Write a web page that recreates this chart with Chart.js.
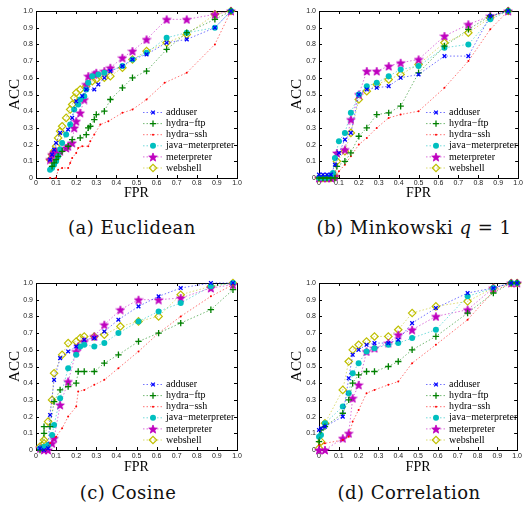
<!DOCTYPE html>
<html>
<head>
<meta charset="utf-8">
<script src="https://cdn.jsdelivr.net/npm/chart.js@4/dist/chart.umd.min.js"></script>
<style>
  body { margin: 0; background: #fff; width: 524px; height: 506px; position: relative; overflow: hidden; }
  canvas { position: absolute; }
  .cap { position: absolute; font-family: "DejaVu Serif", serif; font-size: 18px; line-height: 20px; color: #111;
         white-space: nowrap; transform: translateX(-50%); letter-spacing: 0.5px; }
</style>
</head>
<body>
<canvas id="a" width="262" height="205" style="left:0;top:0"></canvas>
<canvas id="b" width="262" height="205" style="left:262px;top:0"></canvas>
<canvas id="c" width="262" height="225" style="left:0;top:253px"></canvas>
<canvas id="d" width="262" height="225" style="left:262px;top:253px"></canvas>
<div class="cap" style="left:132px;top:218px">(a) Euclidean</div>
<div class="cap" style="left:414px;top:218px">(b) Minkowski <i>q</i> = 1</div>
<div class="cap" style="left:128px;top:483px">(c) Cosine</div>
<div class="cap" style="left:409px;top:483px">(d) Correlation</div>
<script>
// tick values, shared by both axes of every panel
const tickValues = [0, 0.1, 0.2, 0.3, 0.4, 0.5, 0.6, 0.7, 0.8, 0.9, 1];
const seriesNames = ["adduser", "hydra\u2212ftp", "hydra\u2212ssh", "java\u2212meterpreter", "meterpreter", "webshell"];

// (a) Euclidean  [FPR, ACC]
const eucAdduser = [[0.07,0.11],[0.08,0.14],[0.09,0.17],[0.1,0.21],[0.12,0.27],[0.16,0.29],[0.18,0.36],[0.2,0.46],[0.23,0.49],[0.25,0.53],[0.29,0.53],[0.31,0.56],[0.34,0.6],[0.37,0.64],[0.43,0.67],[0.48,0.71],[0.55,0.74],[0.65,0.81],[0.75,0.83],[0.89,0.9],[0.97,1]];
const eucFtp = [[0.08,0.07],[0.09,0.09],[0.1,0.11],[0.11,0.13],[0.13,0.16],[0.16,0.19],[0.18,0.23],[0.22,0.24],[0.25,0.26],[0.26,0.3],[0.27,0.31],[0.29,0.35],[0.3,0.38],[0.34,0.4],[0.37,0.47],[0.43,0.54],[0.48,0.6],[0.55,0.64],[0.65,0.77],[0.75,0.87],[0.89,0.95],[0.97,1]];
const eucSsh = [[0.07,0],[0.1,0],[0.11,0.05],[0.13,0.06],[0.16,0.06],[0.17,0.09],[0.18,0.12],[0.2,0.15],[0.21,0.18],[0.23,0.19],[0.26,0.19],[0.27,0.22],[0.29,0.26],[0.32,0.32],[0.36,0.34],[0.43,0.39],[0.48,0.41],[0.55,0.47],[0.64,0.57],[0.75,0.63],[0.89,0.8],[0.97,1]];
const eucJava = [[0.07,0.05],[0.08,0.06],[0.09,0.08],[0.1,0.1],[0.11,0.13],[0.12,0.17],[0.13,0.21],[0.15,0.26],[0.17,0.32],[0.19,0.41],[0.21,0.44],[0.22,0.47],[0.24,0.49],[0.25,0.53],[0.26,0.57],[0.28,0.61],[0.31,0.62],[0.34,0.63],[0.43,0.67],[0.48,0.71],[0.55,0.75],[0.65,0.84],[0.75,0.87],[0.89,0.9],[0.97,1]];
const eucMeter = [[0.07,0.11],[0.08,0.14],[0.09,0.15],[0.1,0.16],[0.12,0.16],[0.15,0.18],[0.16,0.19],[0.18,0.21],[0.19,0.3],[0.2,0.34],[0.22,0.39],[0.24,0.47],[0.25,0.56],[0.26,0.61],[0.29,0.62],[0.3,0.63],[0.34,0.64],[0.37,0.66],[0.43,0.72],[0.48,0.76],[0.55,0.83],[0.65,0.95],[0.75,0.95],[0.89,0.98],[0.97,1]];
const eucWeb = [[0.07,0.11],[0.08,0.14],[0.09,0.16],[0.1,0.19],[0.11,0.24],[0.12,0.28],[0.13,0.31],[0.15,0.36],[0.17,0.41],[0.18,0.44],[0.19,0.48],[0.2,0.51],[0.22,0.53],[0.25,0.55],[0.28,0.58],[0.3,0.59],[0.34,0.6],[0.37,0.61],[0.43,0.66],[0.48,0.71],[0.55,0.76],[0.65,0.81],[0.75,0.86],[0.89,0.98],[0.97,1]];

// (b) Minkowski q = 1
const minAdduser = [[0,0.02],[0.02,0.02],[0.04,0.02],[0.06,0.02],[0.08,0.08],[0.1,0.15],[0.13,0.23],[0.16,0.27],[0.2,0.5],[0.24,0.53],[0.29,0.54],[0.35,0.55],[0.41,0.6],[0.5,0.62],[0.63,0.73],[0.75,0.73],[0.86,0.97],[0.95,1]];
const minFtp = [[0,0],[0.02,0],[0.04,0],[0.06,0],[0.08,0],[0.09,0.07],[0.13,0.1],[0.16,0.15],[0.2,0.25],[0.24,0.3],[0.29,0.38],[0.35,0.39],[0.41,0.43],[0.5,0.63],[0.63,0.79],[0.75,0.89],[0.86,0.97],[0.95,1]];
const minSsh = [[0,0],[0.02,0],[0.04,0],[0.06,0],[0.08,0],[0.1,0.04],[0.13,0.08],[0.16,0.13],[0.2,0.2],[0.24,0.24],[0.29,0.3],[0.35,0.36],[0.41,0.38],[0.5,0.4],[0.63,0.54],[0.75,0.7],[0.86,0.89],[0.95,1]];
const minJava = [[0,0],[0.02,0],[0.04,0],[0.06,0.01],[0.07,0.03],[0.08,0.12],[0.1,0.22],[0.13,0.27],[0.16,0.39],[0.2,0.5],[0.24,0.55],[0.29,0.57],[0.35,0.61],[0.41,0.65],[0.5,0.67],[0.63,0.78],[0.75,0.8],[0.86,0.95],[0.95,1]];
const minMeter = [[0,0],[0.02,0],[0.04,0],[0.06,0],[0.08,0.01],[0.09,0.15],[0.13,0.17],[0.16,0.35],[0.2,0.5],[0.24,0.64],[0.29,0.64],[0.35,0.67],[0.41,0.69],[0.5,0.71],[0.63,0.85],[0.75,0.92],[0.86,0.97],[0.95,1]];
const minWeb = [[0,0],[0.02,0],[0.04,0],[0.06,0],[0.08,0.01],[0.09,0.1],[0.13,0.16],[0.16,0.27],[0.2,0.47],[0.24,0.52],[0.29,0.56],[0.35,0.59],[0.41,0.62],[0.5,0.68],[0.63,0.81],[0.75,0.87],[0.86,0.96],[0.95,1]];

// (c) Cosine
const cosAdduser = [[0.02,0.01],[0.04,0],[0.06,0.01],[0.07,0.21],[0.09,0.42],[0.12,0.55],[0.16,0.59],[0.2,0.62],[0.24,0.66],[0.29,0.67],[0.34,0.71],[0.41,0.78],[0.51,0.86],[0.61,0.92],[0.72,0.97],[0.87,1],[0.98,1]];
const cosFtp = [[0.02,0],[0.04,0.1],[0.04,0.14],[0.07,0.14],[0.09,0.29],[0.12,0.36],[0.16,0.38],[0.2,0.4],[0.21,0.47],[0.24,0.47],[0.29,0.47],[0.34,0.52],[0.41,0.57],[0.51,0.65],[0.61,0.7],[0.72,0.76],[0.87,0.84],[0.98,0.96]];
const cosSsh = [[0.02,0],[0.05,0],[0.07,0.04],[0.1,0.08],[0.13,0.13],[0.16,0.2],[0.2,0.26],[0.21,0.35],[0.24,0.36],[0.29,0.39],[0.34,0.42],[0.41,0.49],[0.51,0.59],[0.61,0.7],[0.72,0.8],[0.87,0.92],[0.98,0.99]];
const cosJava = [[0.02,0.01],[0.04,0.02],[0.06,0.03],[0.08,0.09],[0.09,0.15],[0.12,0.31],[0.16,0.49],[0.2,0.57],[0.22,0.62],[0.24,0.63],[0.29,0.62],[0.34,0.64],[0.41,0.7],[0.51,0.77],[0.61,0.83],[0.72,0.88],[0.87,0.98],[0.98,1]];
const cosMeter = [[0.02,0.01],[0.04,0],[0.06,0],[0.08,0.04],[0.09,0.07],[0.12,0.27],[0.16,0.41],[0.2,0.59],[0.21,0.62],[0.24,0.65],[0.29,0.68],[0.34,0.75],[0.42,0.84],[0.51,0.9],[0.61,0.9],[0.72,0.91],[0.87,0.97],[0.98,0.99]];
const cosWeb = [[0.02,0.02],[0.04,0.04],[0.04,0.06],[0.06,0.17],[0.08,0.3],[0.09,0.46],[0.13,0.57],[0.16,0.64],[0.2,0.65],[0.22,0.67],[0.24,0.68],[0.29,0.68],[0.34,0.69],[0.42,0.74],[0.51,0.77],[0.61,0.8],[0.72,0.93],[0.87,0.98],[0.98,1]];

// (d) Correlation
const corAdduser = [[0,0.12],[0.01,0.13],[0.03,0.14],[0.12,0.2],[0.15,0.43],[0.17,0.57],[0.2,0.6],[0.24,0.63],[0.28,0.64],[0.35,0.64],[0.4,0.66],[0.47,0.76],[0.59,0.85],[0.75,0.94],[0.88,0.97],[0.97,1],[1,1]];
const corFtp = [[0,0.05],[0.01,0.12],[0.03,0.14],[0.12,0.22],[0.15,0.3],[0.17,0.4],[0.2,0.45],[0.24,0.47],[0.28,0.47],[0.35,0.5],[0.4,0.53],[0.47,0.6],[0.59,0.68],[0.75,0.82],[0.88,0.94],[0.97,1],[1,1]];
const corSsh = [[0,0.03],[0.03,0.04],[0.12,0.06],[0.15,0.08],[0.17,0.17],[0.2,0.24],[0.24,0.34],[0.28,0.36],[0.35,0.39],[0.4,0.41],[0.47,0.52],[0.59,0.63],[0.75,0.78],[0.88,0.95],[0.97,1],[1,1]];
const corJava = [[0,0.08],[0.01,0.09],[0.03,0.16],[0.12,0.26],[0.15,0.34],[0.17,0.46],[0.2,0.52],[0.24,0.59],[0.28,0.61],[0.35,0.63],[0.4,0.64],[0.47,0.67],[0.59,0.72],[0.75,0.92],[0.88,0.97],[0.97,1],[1,1]];
const corMeter = [[0,0],[0.03,0],[0.12,0.07],[0.15,0.1],[0.17,0.31],[0.2,0.39],[0.24,0.59],[0.28,0.61],[0.35,0.64],[0.4,0.69],[0.47,0.72],[0.59,0.8],[0.75,0.84],[0.88,0.97],[0.97,1],[1,1]];
const corWeb = [[0,0.01],[0.01,0.05],[0.03,0.16],[0.12,0.36],[0.15,0.53],[0.17,0.6],[0.2,0.63],[0.24,0.65],[0.28,0.68],[0.35,0.68],[0.4,0.72],[0.47,0.82],[0.59,0.86],[0.75,0.89],[0.88,0.97],[0.97,1],[1,1]];

// filled five-point star, used as a custom point style
function makeStar(size, color) {
    const c = document.createElement("canvas");
    c.width = size;
    c.height = size;
    const g = c.getContext("2d");
    const cx = size / 2, cy = size / 2 + 0.5, ro = size / 2 - 0.5, ri = ro * 0.42;
    g.beginPath();
    for (let k = 0; k < 10; k++) {
        const r = k % 2 ? ri : ro;
        const a = -Math.PI / 2 + k * Math.PI / 5;
        g.lineTo(cx + r * Math.cos(a), cy + r * Math.sin(a));
    }
    g.closePath();
    g.fillStyle = color;
    g.fill();
    g.strokeStyle = color;
    g.lineWidth = 0.8;
    g.stroke();
    return c;
}

const markColors = ["#0000ff", "#008000", "#ff0000", "#00bfbf", "#bf00bf", "#bfbf00"];
const lineColors = ["rgba(0,0,255,0.55)", "rgba(0,128,0,0.55)", "rgba(255,0,0,0.55)", "rgba(0,191,191,0.55)", "rgba(191,0,191,0.55)", "rgba(191,191,0,0.55)"];
const fillColors = ["#0000ff", "#008000", "#ff0000", "#00bfbf", "#bf00bf", "rgba(0,0,0,0)"];
const pointStyles = ["crossRot", "cross", "circle", "circle", makeStar(10, "#bf00bf"), "rectRot"];
const pointRadii = [2.6, 3.2, 1, 3, 5, 3.7];
const pointBorders = [1.3, 1.3, 0, 0, 0, 1.2];

// box round the plot with inward tick marks on all four sides
const framePlugin = {
    id: "frame",
    beforeDatasetsDraw(chart) {
        const { ctx, chartArea: a, scales } = chart;
        ctx.save();
        ctx.strokeStyle = "#000";
        ctx.lineWidth = 1;
        ctx.beginPath();
        scales.x.ticks.forEach(t => {
            const px = Math.round(scales.x.getPixelForValue(t.value)) + 0.5;
            ctx.moveTo(px, a.bottom); ctx.lineTo(px, a.bottom - 3);
            ctx.moveTo(px, a.top); ctx.lineTo(px, a.top + 3);
        });
        scales.y.ticks.forEach(t => {
            const py = Math.round(scales.y.getPixelForValue(t.value)) + 0.5;
            ctx.moveTo(a.left, py); ctx.lineTo(a.left + 3, py);
            ctx.moveTo(a.right, py); ctx.lineTo(a.right - 3, py);
        });
        ctx.stroke();
        ctx.strokeRect(Math.round(a.left) + 0.5, Math.round(a.top) + 0.5, Math.round(a.right - a.left), Math.round(a.bottom - a.top));
        ctx.restore();
    },
};

// legend in the lower right corner of the plot
const legendPlugin = {
    id: "cornerLegend",
    afterDraw(chart) {
        const { ctx, chartArea: a } = chart;
        const x0 = a.left + 107;
        ctx.save();
        chart.data.datasets.forEach((ds, i) => {
            const y = a.bottom - 10 - (5 - i) * 11.1;
            ctx.setLineDash([1.5, 2]);
            ctx.strokeStyle = lineColors[i];
            ctx.lineWidth = 1;
            ctx.beginPath();
            ctx.moveTo(x0, y);
            ctx.lineTo(x0 + 20, y);
            ctx.stroke();
            ctx.setLineDash([]);
            ctx.fillStyle = fillColors[i];
            ctx.strokeStyle = markColors[i];
            ctx.lineWidth = pointBorders[i];
            Chart.helpers.drawPoint(ctx, { pointStyle: pointStyles[i], radius: pointRadii[i], borderWidth: pointBorders[i], rotation: 0 }, x0 + 10, y);
            ctx.fillStyle = "#000";
            ctx.font = "10px 'Liberation Serif'";
            ctx.textBaseline = "middle";
            ctx.fillText(ds.label, x0 + 23, y);
        });
        ctx.restore();
    },
};

function makeChart(id, series, box) {
    const cv = document.getElementById(id);
    const W = cv.width, H = cv.height;
    return new Chart(cv, {
        type: "scatter",
        data: {
            datasets: series.map((pts, i) => ({
                label: seriesNames[i],
                data: pts.map(p => ({ x: p[0], y: p[1] })),
                showLine: true,
                borderColor: lineColors[i],
                borderWidth: 1,
                borderDash: [1.5, 2],
                tension: 0,
                pointStyle: pointStyles[i],
                pointRadius: pointRadii[i],
                pointBorderWidth: pointBorders[i],
                pointBorderColor: markColors[i],
                pointBackgroundColor: fillColors[i],
                clip: false,
            })),
        },
        options: {
            responsive: false,
            animation: false,
            events: [],
            layout: { padding: { left: 0, top: box.top, right: W - box.right, bottom: 0 } },
            plugins: { legend: { display: false }, tooltip: { enabled: false } },
            scales: {
                x: {
                    type: "linear",
                    min: 0,
                    max: 1,
                    afterBuildTicks: s => { s.ticks = tickValues.map(v => ({ value: v })); },
                    afterFit: s => { s.height = H - box.bottom; },
                    grid: { display: false, drawTicks: false },
                    border: { display: false },
                    ticks: { padding: box.xTickPad, color: "#222", font: { size: 7, family: "Liberation Sans" } },
                    title: { display: true, text: "FPR", color: "#000", padding: { top: 0, bottom: box.xTitlePad },
                             font: { size: 14, family: "Liberation Serif", lineHeight: 1 } },
                },
                y: {
                    type: "linear",
                    min: 0,
                    max: 1,
                    afterBuildTicks: s => { s.ticks = tickValues.map(v => ({ value: v })); },
                    afterFit: s => { s.width = box.left; },
                    grid: { display: false, drawTicks: false },
                    border: { display: false },
                    ticks: { padding: 3, color: "#222", font: { size: 7, family: "Liberation Sans" } },
                    title: { display: true, text: "ACC", color: "#000", padding: { top: box.yTitlePad, bottom: 0 },
                             font: { size: 15, family: "Liberation Serif", lineHeight: 1 } },
                },
            },
        },
        plugins: [framePlugin, legendPlugin],
    });
}

makeChart("a", [eucAdduser, eucFtp, eucSsh, eucJava, eucMeter, eucWeb],
    { left: 36, right: 237, top: 11, bottom: 178, xTickPad: 1, xTitlePad: 5, yTitlePad: 8 });
makeChart("b", [minAdduser, minFtp, minSsh, minJava, minMeter, minWeb],
    { left: 57, right: 257, top: 11, bottom: 178, xTickPad: 1, xTitlePad: 5, yTitlePad: 28 });
makeChart("c", [cosAdduser, cosFtp, cosSsh, cosJava, cosMeter, cosWeb],
    { left: 36, right: 237, top: 30, bottom: 197, xTickPad: 2, xTitlePad: 4, yTitlePad: 8 });
makeChart("d", [corAdduser, corFtp, corSsh, corJava, corMeter, corWeb],
    { left: 57, right: 257, top: 30, bottom: 197, xTickPad: 2, xTitlePad: 4, yTitlePad: 28 });
</script>
</body>
</html>
